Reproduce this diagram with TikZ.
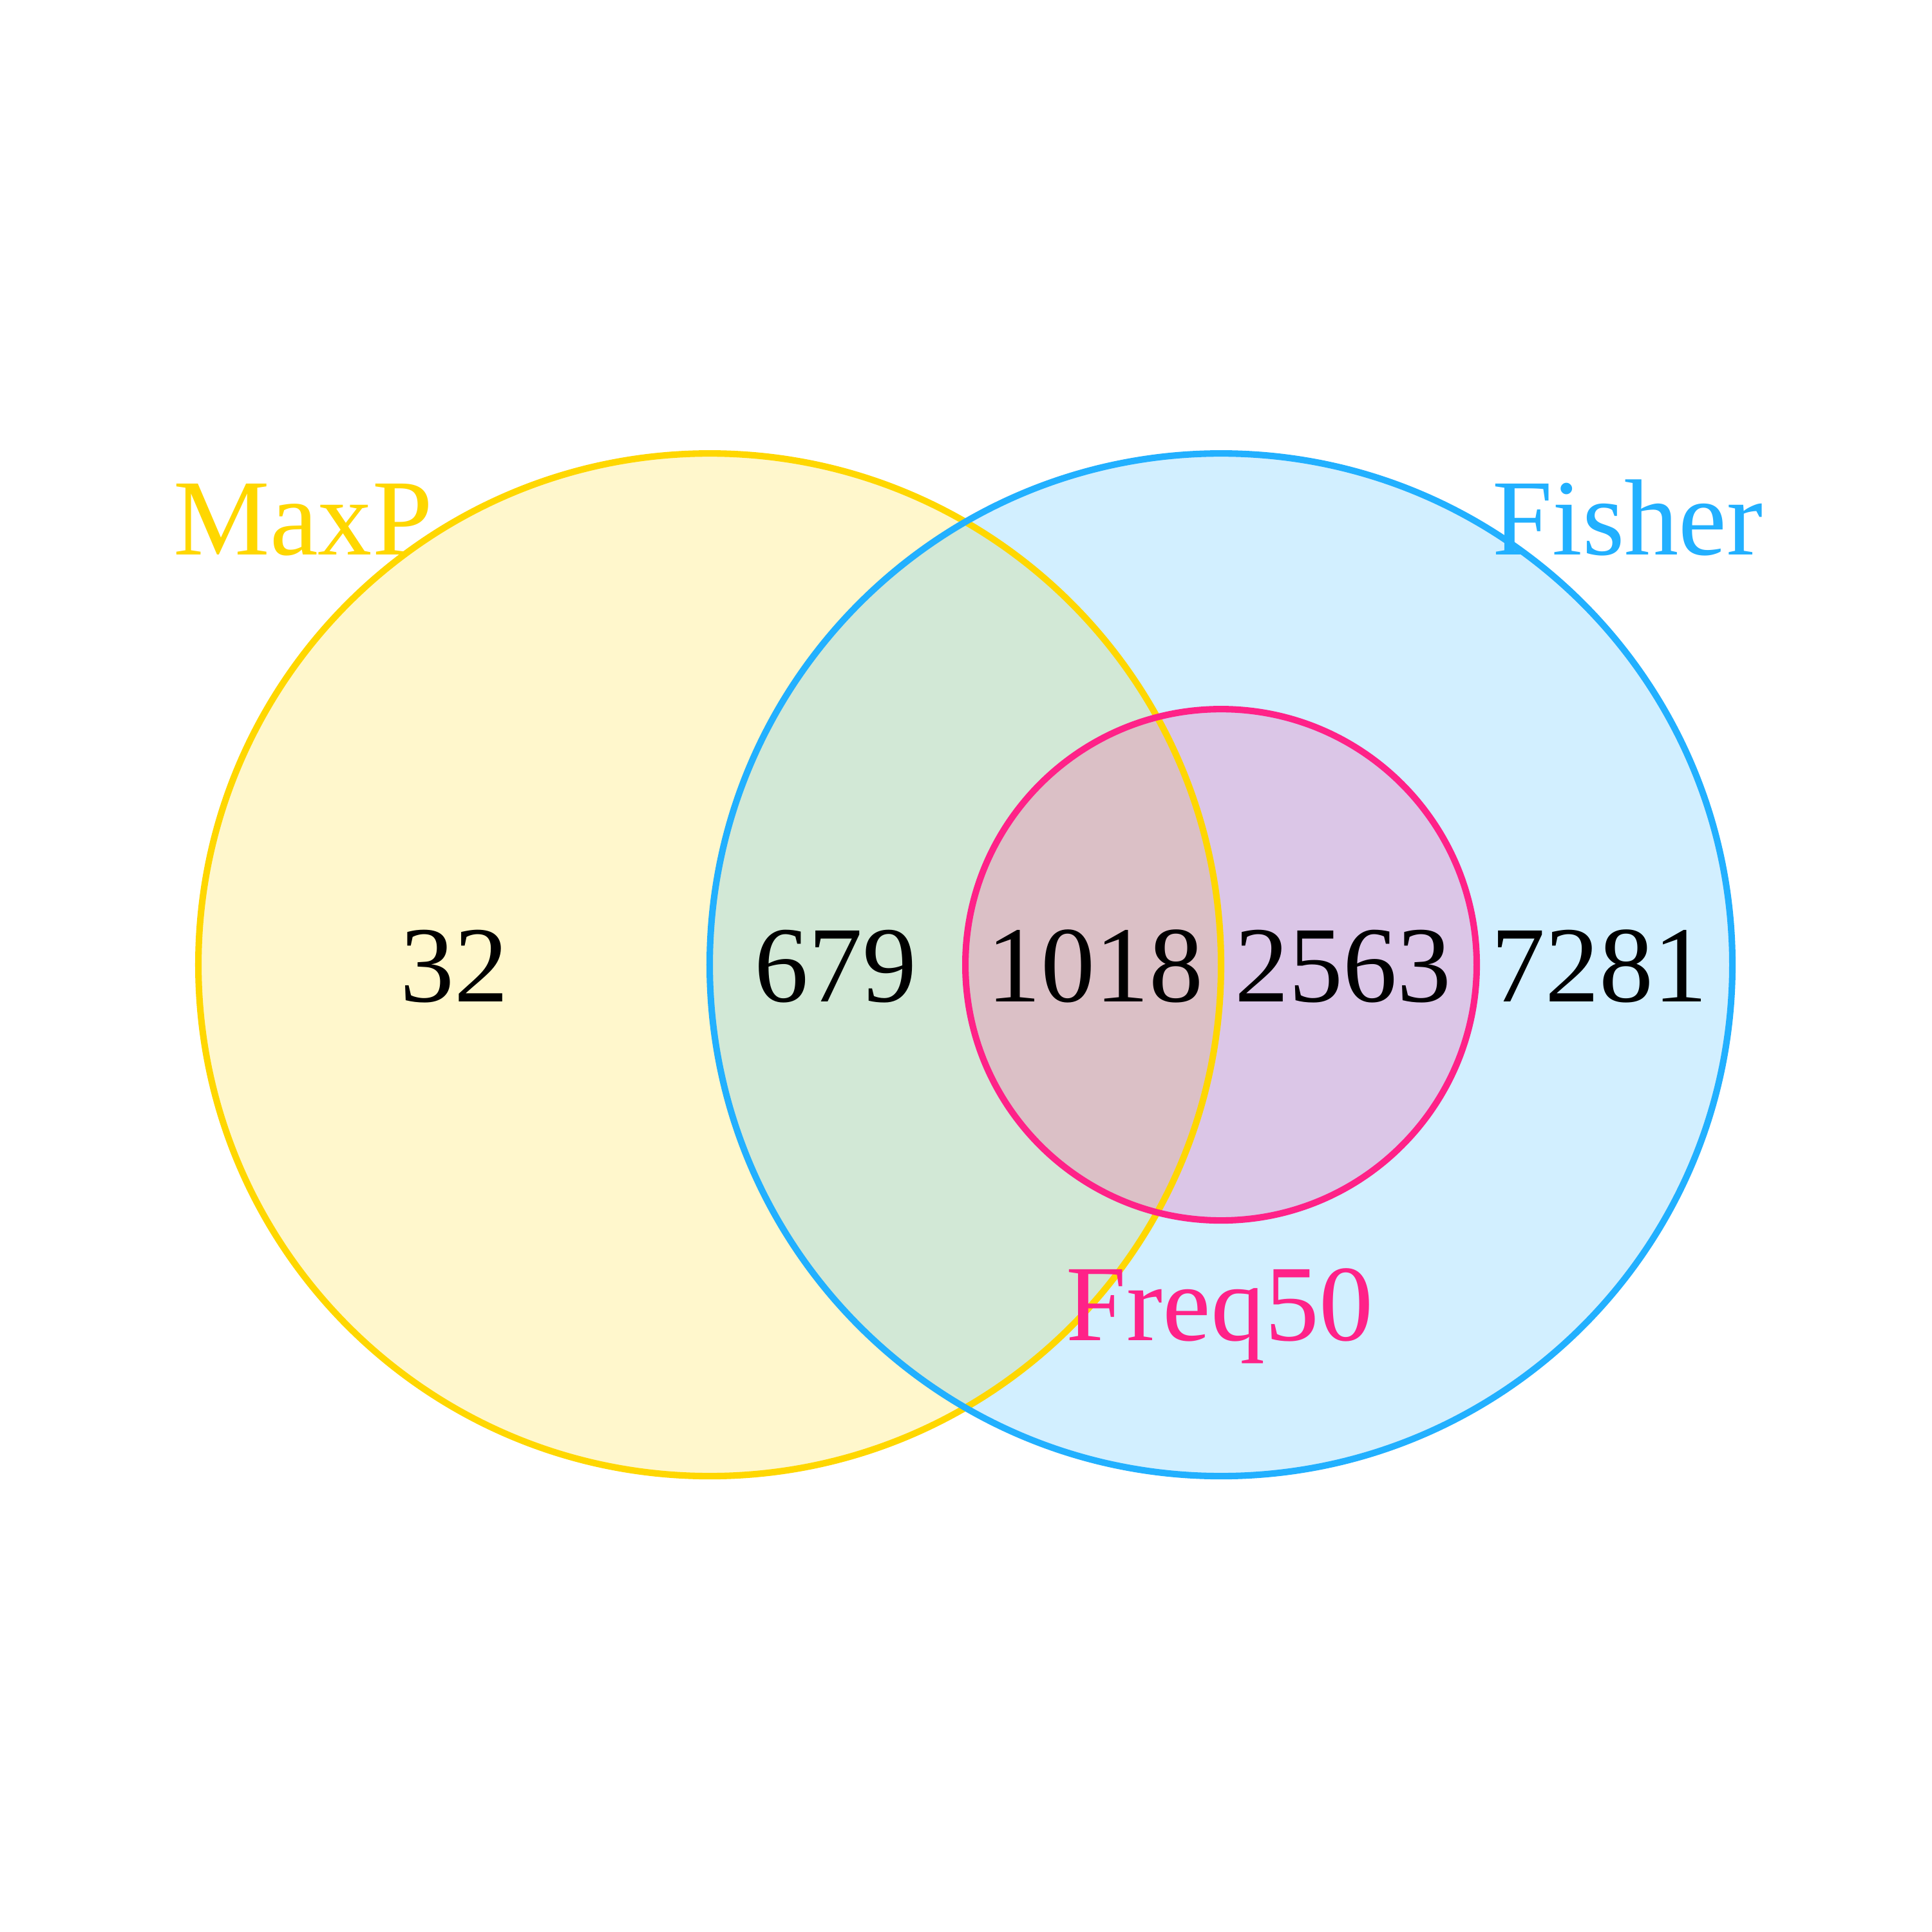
\documentclass[tikz,border=0pt]{standalone}
\usepackage{fontspec}
\setmainfont{LiberationSerif}[Extension=.ttf,UprightFont=*-Regular]
\definecolor{cmaxp}{HTML}{FFD700}
\definecolor{cfisher}{HTML}{22B0FF}
\definecolor{cfreq}{HTML}{FF2288}
\begin{document}
\begin{tikzpicture}[x=0.01cm,y=-0.01cm,
  setfill/.style={fill=#1,fill opacity=0.2,draw=none},
  setline/.style={draw=#1,line width=1.5pt,fill=none},
  count/.style={anchor=base,font=\fontsize{25}{30}\selectfont,text=black,inner sep=0pt},
  setlabel/.style={anchor=base,font=\fontsize{25}{30}\selectfont,text=#1,inner sep=0pt}]
\useasboundingbox (0,0) rectangle (1568,1568);
\fill[white] (0,0) rectangle (1568,1568);
\coordinate (cA) at (576,783);
\coordinate (cB) at (991,783);
\coordinate (cC) at (991,783);
\path[setfill=cmaxp] (cA) circle[radius=415];
\path[setfill=cfisher] (cB) circle[radius=415];
\path[setfill=cfreq] (cC) circle[radius=207.5];
\path[setline=cmaxp] (cA) circle[radius=415];
\path[setline=cfisher] (cB) circle[radius=415];
\path[setline=cfreq] (cC) circle[radius=207.5];
\node[count] (n32) at (369,813) {32};
\node[count] (n679) at (678,813) {679};
\node[count] (n1018) at (889,813) {1018};
\node[count] (n2563) at (1090,813) {2563};
\node[count] (n7281) at (1298,813) {7281};
\node[setlabel=cmaxp] (lA) at (246,450) {MaxP};
\node[setlabel=cfisher] (lB) at (1321,450) {Fisher};
\node[setlabel=cfreq] (lC) at (990,1088) {Freq50};
\end{tikzpicture}
\end{document}
